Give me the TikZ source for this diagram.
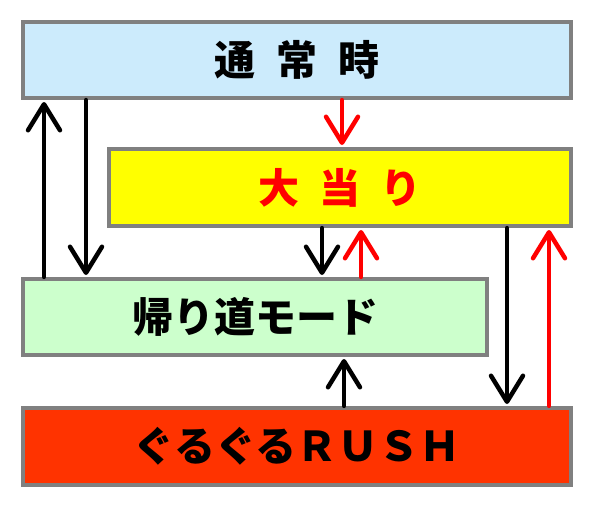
\documentclass[tikz,border=0pt]{standalone}
\usepackage{fontspec}
\newfontfamily\jp{Noto Sans CJK JP}
\usetikzlibrary{arrows.meta}
\definecolor{bordergray}{HTML}{808080}
\definecolor{lightblue}{HTML}{CCEBFC}
\definecolor{lightgreen}{HTML}{CCFFCC}
\definecolor{rushred}{HTML}{FF3300}
\definecolor{tred}{HTML}{FF0000}
\definecolor{byellow}{HTML}{FFFF00}
\tikzset{
  box/.style={draw=bordergray, line width=4pt, rectangle, inner sep=0pt,
    font=\jp\bfseries\fontsize{41}{41}\selectfont},
  arr/.style={line width=4.3pt, -{Straight Barb[length=26pt,width=32pt,line width'=4.5pt 0,line cap=round,line join=round]}, line cap=round, shorten >=2pt},
}
\begin{document}
\begin{tikzpicture}[x=1pt,y=-1pt]
\useasboundingbox (0,0) rectangle (595,507);
\node[box, fill=lightblue, minimum width=548pt, minimum height=76pt] (b1) at (297,60) {通\hspace{21pt}常\hspace{21pt}時};
\node[box, fill=byellow, text=tred, minimum width=462pt, minimum height=77pt] (b2) at (340,187.5) {大\hspace{20pt}当\hspace{20pt}り};
\node[box, fill=lightgreen, minimum width=464pt, minimum height=76pt] (b3) at (255,317) {帰り道モード};
\node[box, fill=rushred, minimum width=548pt, minimum height=77pt] (b4) at (297,446.5) {ぐるぐるＲＵＳＨ};
\coordinate (xa) at (44,0);
\coordinate (xb) at (86,0);
\coordinate (xc) at (342,0);
\coordinate (xd) at (322,0);
\coordinate (xe) at (361,0);
\coordinate (xf) at (344,0);
\coordinate (xg) at (507,0);
\coordinate (xh) at (549,0);
\draw[arr] (b3.north -| xa) -- (b1.south -| xa);
\draw[arr] (b1.south -| xb) -- (b3.north -| xb);
\draw[arr, tred] (b1.south -| xc) -- (b2.north -| xc);
\draw[arr] (b2.south -| xd) -- (b3.north -| xd);
\draw[arr, tred] (b3.north -| xe) -- (b2.south -| xe);
\draw[arr] (b4.north -| xf) -- (b3.south -| xf);
\draw[arr] (b2.south -| xg) -- (b4.north -| xg);
\draw[arr, tred] (b4.north -| xh) -- (b2.south -| xh);
\end{tikzpicture}
\end{document}
